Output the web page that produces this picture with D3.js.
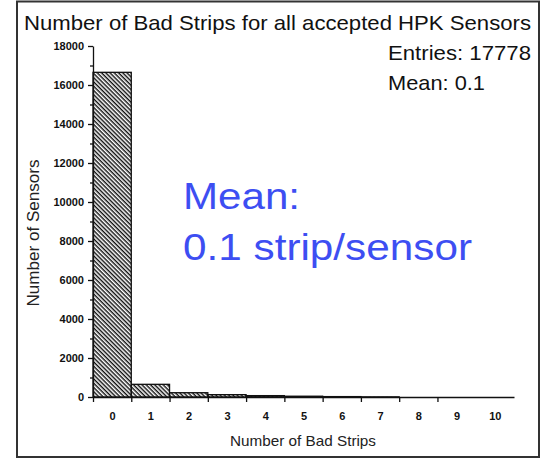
<!DOCTYPE html>
<html>
<head>
<meta charset="utf-8">
<script src="https://cdn.jsdelivr.net/npm/d3@7"></script>
<style>
  body { margin: 0; background: #fff; }
  svg { display: block; font-family: "Liberation Sans", Arial, sans-serif; }
  .tickLabel { font-weight: bold; font-size: 11px; fill: #111; }
</style>
</head>
<body>
<div id="chart"></div>
<script>
// bins of the histogram (number of bad strips per sensor)
var bins = [0, 1, 2, 3, 4, 5, 6, 7, 8, 9, 10];
var counts = [16650, 650, 220, 120, 70, 40, 20, 8, 0, 0, 0];
var yTicks = [0, 2000, 4000, 6000, 8000, 10000, 12000, 14000, 16000, 18000];
var statLines = ["Entries: 17778", "Mean: 0.1"];
var noteLines = ["Mean:", "0.1 strip/sensor"];

var width = 541, height = 459;
var plot = {left: 93, right: 514, top: 46, bottom: 397};

var svg = d3.select("#chart").append("svg")
    .attr("width", width)
    .attr("height", height);

// hatch pattern for the bars (lines going down to the right)
var defs = svg.append("defs");
defs.append("pattern")
    .attr("id", "hatch")
    .attr("patternUnits", "userSpaceOnUse")
    .attr("width", 3)
    .attr("height", 3)
    .attr("patternTransform", "rotate(45)")
    .append("rect")
    .attr("x", 0).attr("y", 0)
    .attr("width", 3).attr("height", 1.45)
    .attr("fill", "#111");

// outer frame
svg.append("rect")
    .attr("x", 17).attr("y", 1.5)
    .attr("width", 522).attr("height", 455.5)
    .attr("fill", "none")
    .attr("stroke", "#333")
    .attr("stroke-width", 2);

var x = d3.scaleLinear()
    .domain([-0.5, 10.5])
    .range([plot.left, plot.right]);

var y = d3.scaleLinear()
    .domain([0, 18000])
    .range([plot.bottom, plot.top]);

// bars (empty bins are not drawn)
svg.selectAll(".bar").data(bins.filter(function (d, i) {return counts[i] > 0}))
    .enter()
    .append("rect")
    .attr("class", "bar")
    .attr("x", function (d) {return x(d - 0.5)})
    .attr("width", function (d) {return x(d + 0.5) - x(d - 0.5)})
    .attr("y", function (d) {return y(counts[d])})
    .attr("height", function (d) {return y(0) - y(counts[d])})
    .attr("fill", "url(#hatch)")
    .attr("stroke", "#111")
    .attr("stroke-width", 1.3);

// y axis: major ticks with labels, minor ticks in between
var yAxis = svg.append("g")
    .attr("transform", "translate(" + plot.left + ",0)")
    .call(d3.axisLeft(y).tickValues(yTicks).tickSize(5).tickPadding(4).tickSizeOuter(0).tickFormat(d3.format("d")));
yAxis.selectAll("text").attr("class", "tickLabel");
svg.append("g")
    .attr("transform", "translate(" + plot.left + ",0)")
    .call(d3.axisLeft(y).tickValues(d3.range(1000, 18000, 2000)).tickSize(3).tickFormat(""))
    .select(".domain").remove();

// x axis: ticks at bin edges, labels at bin centres
svg.append("g")
    .attr("transform", "translate(0," + plot.bottom + ")")
    .call(d3.axisBottom(x).tickValues(bins.slice(0, 10).map(function (d) {return d - 0.5})).tickSize(5).tickSizeOuter(0).tickFormat(""));
svg.append("g")
    .attr("transform", "translate(0," + plot.bottom + ")")
    .call(d3.axisBottom(x).tickValues(bins).tickSize(0).tickPadding(15).tickFormat(d3.format("d")))
    .call(function (g) {g.select(".domain").remove()})
    .selectAll("text").attr("class", "tickLabel");

svg.selectAll(".domain, .tick line").attr("stroke", "#111").attr("stroke-width", 1.3);

// axis titles
svg.append("text")
    .attr("x", 303)
    .attr("y", 446)
    .attr("text-anchor", "middle")
    .attr("font-size", 15)
    .attr("fill", "#222")
    .attr("textLength", 146)
    .attr("lengthAdjust", "spacingAndGlyphs")
    .text("Number of Bad Strips");

svg.append("text")
    .attr("transform", "translate(39,233) rotate(-90)")
    .attr("text-anchor", "middle")
    .attr("font-size", 16)
    .attr("fill", "#222")
    .attr("textLength", 147)
    .attr("lengthAdjust", "spacingAndGlyphs")
    .text("Number of Sensors");

// title and stats box text
svg.append("text")
    .attr("x", 24)
    .attr("y", 30)
    .attr("font-size", 21)
    .attr("fill", "#111")
    .attr("textLength", 507)
    .attr("lengthAdjust", "spacingAndGlyphs")
    .text("Number of Bad Strips for all accepted HPK Sensors");

var statWidths = [143, 97];
svg.selectAll(".stat").data(statLines)
    .enter()
    .append("text")
    .attr("class", "stat")
    .attr("x", 388)
    .attr("y", function (d, i) {return 60 + i * 30})
    .attr("font-size", 21)
    .attr("fill", "#111")
    .attr("textLength", function (d, i) {return statWidths[i]})
    .attr("lengthAdjust", "spacingAndGlyphs")
    .text(function (d) {return d});

var noteWidths = [117, 289];
svg.selectAll(".note").data(noteLines)
    .enter()
    .append("text")
    .attr("class", "note")
    .attr("x", 183)
    .attr("y", function (d, i) {return 209 + i * 51})
    .attr("font-size", 36)
    .attr("fill", "#3d4ef2")
    .attr("textLength", function (d, i) {return noteWidths[i]})
    .attr("lengthAdjust", "spacingAndGlyphs")
    .text(function (d) {return d});
</script>
</body>
</html>
